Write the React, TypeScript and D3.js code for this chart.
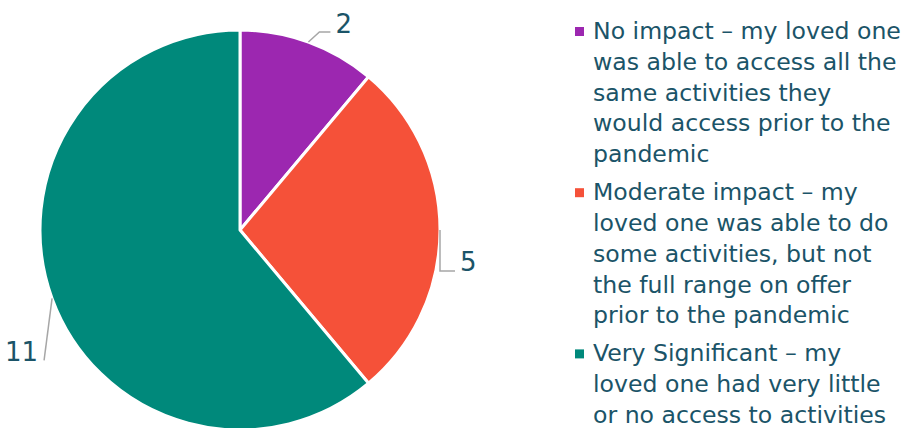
import React from "react";
import * as d3 from "d3";

const categories = [
  "No impact – my loved one was able to access all the same activities they would access prior to the pandemic",
  "Moderate impact – my loved one was able to do some activities, but not the full range on offer prior to the pandemic",
  "Very Significant – my loved one had very little or no access to activities",
];
const values = [2, 5, 11];
const legendLines = [
  ["No impact – my loved one", "was able to access all the", "same activities they", "would access prior to the", "pandemic"],
  ["Moderate impact – my", "loved one was able to do", "some activities, but not", "the full range on offer", "prior to the pandemic"],
  ["Very Significant – my", "loved one had very little", "or no access to activities"],
];
const colors = ["#9C27B0", "#F55139", "#00897B"];

const W = 903;
const H = 428;
const TEXT = "#1B5468";
const FONT = "'DejaVu Sans', Verdana, sans-serif";

const leaderLayout: Array<{ pts: [number, number][]; anchor: string; tx: number; ty: number }> = [
  { pts: [[11, -10], [22, -10]], anchor: "start", tx: 27, ty: -9 },
  { pts: [[0, 41], [15, 41]], anchor: "start", tx: 20, ty: 41 },
  { pts: [[-8, 62]], anchor: "end", tx: -14, ty: 63 },
];

export default function App() {
  const cx = 240;
  const cy = 230;
  const r = 200;
  const data = categories.map((c, i) => ({ c, v: values[i], i }));
  const pie = d3.pie<any>().sort(null).value((d) => d.v);
  const arcs = pie(data);
  const arc = d3.arc<any>().innerRadius(0).outerRadius(r);

  const lineH = 30.8;
  const itemGap = 38;
  let y = 39;
  const legendItems = legendLines.map((lines, i) => {
    const startY = y;
    y += (lines.length - 1) * lineH + itemGap;
    return { lines, startY, i };
  });

  return (
    <svg width={W} height={H} style={{ position: "absolute", left: 0, top: 0 }}>
      <rect width={W} height={H} fill="#fff" />
      <g transform={`translate(${cx},${cy})`}>
        {arcs.map((a, i) => (
          <path key={i} d={arc(a) as string} fill={colors[i]} stroke="#fff" strokeWidth={3} strokeLinejoin="round" />
        ))}
        {arcs.map((a, i) => {
          const mid = (a.startAngle + a.endAngle) / 2;
          const x0 = Math.sin(mid) * r;
          const y0 = -Math.cos(mid) * r;
          const L = leaderLayout[i];
          const pts: [number, number][] = [[x0, y0], ...L.pts.map(([dx, dy]) => [x0 + dx, y0 + dy] as [number, number])];
          return (
            <g key={"l" + i}>
              <polyline points={pts.map((p) => p.join(",")).join(" ")} fill="none" stroke="#A6A6A6" strokeWidth={1.5} />
              <text x={x0 + L.tx} y={y0 + L.ty} textAnchor={L.anchor} fontFamily={FONT} fontSize={26} fill={TEXT}>
                {a.data.v}
              </text>
            </g>
          );
        })}
      </g>
      <g>
        {legendItems.map((it) => (
          <g key={it.i}>
            <rect x={575} y={it.startY - 12} width={9} height={9} fill={colors[it.i]} />
            <text fontFamily={FONT} fontSize={23.6} fill={TEXT}>
              {it.lines.map((ln, k) => (
                <tspan key={k} x={593} y={it.startY + k * lineH}>
                  {ln}
                </tspan>
              ))}
            </text>
          </g>
        ))}
      </g>
    </svg>
  );
}
